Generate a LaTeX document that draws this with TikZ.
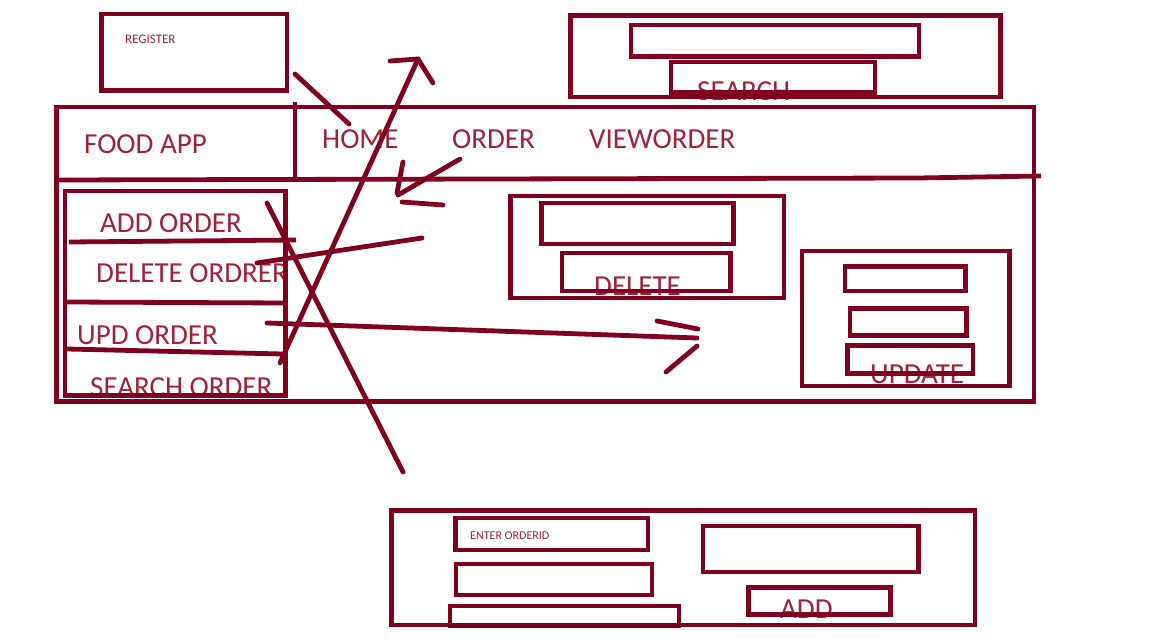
\documentclass[tikz,border=0pt]{standalone}
\usepackage{fontspec}
\setmainfont{Carlito}
\definecolor{ink}{RGB}{128,0,32}
\definecolor{txt}{RGB}{158,34,56}
\begin{document}
\begin{tikzpicture}[x=1pt,y=-1pt,
  box/.style={draw=ink,line width=4.8pt},
  stroke/.style={draw=ink,line width=4.8pt,line cap=round},
  big/.style={text=txt,font=\fontsize{29}{29}\selectfont,inner sep=0pt,anchor=base west},
  small/.style={text=txt,inner sep=0pt,anchor=base west}]
\useasboundingbox (0,0) rectangle (1152,639);
\fill[white] (0,0) rectangle (1152,639);

% ---------- texts (drawn first, boxes overlap them) ----------
\node[small,font=\fontsize{13}{13}\selectfont] (treg) at (125,44) {REGISTER};
\node[big] (tsearch) at (697,101) {SEARCH};
\node[big] (tfood) at (84,154) {FOOD APP};
\node[big] (thome) at (322,149) {HOME};
\node[big] (torder) at (452,149) {ORDER};
\node[big] (tview) at (589,149) {VIEWORDER};
\node[big] (tadd) at (100,233) {ADD ORDER};
\node[big] (tdel) at (96,283) {DELETE ORDRER};
\node[big] (tupd) at (77,344) {UPD ORDER};
\begin{scope}
  \clip (60,300) rectangle (290,393);
  \node[big] (tsrch) at (90,396) {SEARCH ORDER};
\end{scope}
\node[big] (tdelete) at (594,295) {DELETE};
\node[big] (tupdate) at (870,383) {UPDATE};
\node[small,font=\fontsize{12}{12}\selectfont] (tenter) at (470,539) {ENTER ORDERID};
\node[big] (taddb) at (780,618) {ADD};

% ---------- register ----------
\draw[box] (101.5,14) rectangle (287,90.5);

% ---------- search panel ----------
\draw[box] (570.5,15.5) rectangle (1000.5,97);
\draw[box] (631,25) rectangle (919,56.5);
\draw[box] (671,62) rectangle (875,92.5);

% ---------- main frame ----------
\draw[box] (56.5,107) rectangle (1034,401.5);
\draw[stroke,line cap=butt] (56.5,180) -- (918,178) -- (1041,176);
\draw[stroke,line cap=butt] (295,102) -- (295,178);

% ---------- left menu ----------
\draw[box] (65,191) rectangle (285.5,395.5);
\draw[stroke,line cap=butt] (69,242) -- (296,240);
\draw[stroke,line cap=butt] (67,302) -- (285,303);
\draw[stroke,line cap=butt] (67,349) -- (283,354);

% ---------- delete panel ----------
\draw[box] (510.5,196) rectangle (784,298);
\draw[box] (541.5,203) rectangle (733.5,244);
\draw[box] (562,253) rectangle (730.5,291);

% ---------- update panel ----------
\draw[box] (802,251) rectangle (1009.5,386);
\draw[box] (845,266.5) rectangle (965.5,291);
\draw[box] (850,308.5) rectangle (966.5,335.5);
\draw[box] (847.5,345.5) rectangle (973,373.5);

% ---------- add panel ----------
\draw[box] (391.5,510.5) rectangle (975,625);
\draw[box] (455.5,518) rectangle (648,550);
\draw[box] (456,564) rectangle (652,595);
\draw[box] (450,606) rectangle (679,626);
\draw[box] (703,526) rectangle (918.5,572);
\draw[box] (748.5,587.5) rectangle (890.5,614.5);

% ---------- hand-drawn strokes ----------
\coordinate (r1) at (295,74);   \coordinate (r2) at (349,124);
\coordinate (l1) at (280,363);  \coordinate (l2) at (418,59);
\coordinate (l3) at (390,61);   \coordinate (l4) at (433,83);
\coordinate (c1) at (267,203);  \coordinate (c2) at (403,472);
\coordinate (o1) at (460,159);  \coordinate (o2) at (398,195);
\coordinate (o3) at (403,162);  \coordinate (o4) at (397,193);
\coordinate (o5) at (402,202);  \coordinate (o6) at (443,205);
\coordinate (d1) at (257,263);  \coordinate (d2) at (422,238);
\coordinate (u1) at (267,323);  \coordinate (u2) at (697,338);
\coordinate (u3) at (657,321);  \coordinate (u4) at (698,329);
\coordinate (u5) at (697,346);  \coordinate (u6) at (666,372);

\draw[stroke] (r1) -- (r2);
\draw[stroke] (l1) -- (l2);
\draw[stroke] (l3) -- (l2) -- (l4);
\draw[stroke] (c1) -- (c2);
\draw[stroke] (o1) -- (o2);
\draw[stroke] (o3) -- (o4);
\draw[stroke] (o5) -- (o6);
\draw[stroke] (d1) -- (d2);
\draw[stroke] (u1) -- (u2);
\draw[stroke] (u3) -- (u4);
\draw[stroke] (u5) -- (u6);
\end{tikzpicture}
\end{document}
